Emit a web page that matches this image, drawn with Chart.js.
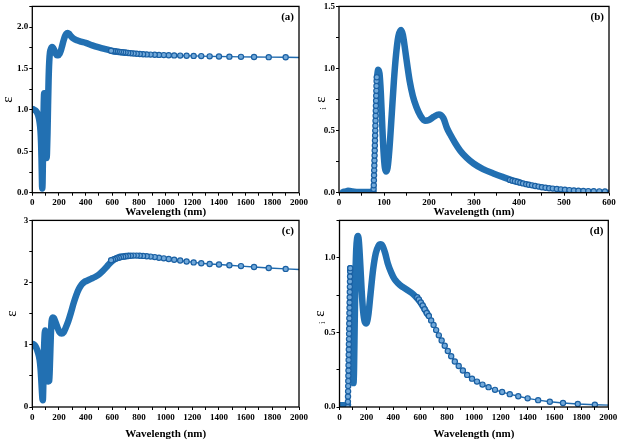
<!DOCTYPE html>
<html><head><meta charset="utf-8">
<script src="https://cdn.jsdelivr.net/npm/chart.js@4/dist/chart.umd.min.js"></script>
<style>
html,body{margin:0;padding:0;background:#fff}
body{width:620px;height:442px;position:relative;overflow:hidden}
canvas{position:absolute}
</style></head><body>
<canvas id="ca" width="310" height="221" style="left:0;top:0;width:310px;height:221px"></canvas>
<canvas id="cb" width="310" height="221" style="left:310px;top:0;width:310px;height:221px"></canvas>
<canvas id="cc" width="310" height="228" style="left:0;top:214px;width:310px;height:228px"></canvas>
<canvas id="cd" width="310" height="228" style="left:310px;top:214px;width:310px;height:228px"></canvas>
<script>
// ---------- data (wavelength in nm, epsilon) ----------
// Panel (a): real part
const wlA_band = [5,15,25,35,45,55,62,66,69,72,74,77,80,83,86,89,92,95,98,101,104,107,110,114,118,122,127,133,140,148,156,165,175,185,195,205,215,225,235,245,255,265,275,290,310,335,365,400,450,500,550,600,650,700];
const epsA_band = [1.01,1.0,0.99,0.97,0.93,0.85,0.74,0.6,0.42,0.18,0.05,0.12,0.45,0.82,1.08,1.2,1.2,1.1,0.85,0.58,0.43,0.42,0.48,0.72,1.05,1.35,1.58,1.7,1.74,1.76,1.75,1.72,1.68,1.66,1.66,1.68,1.72,1.78,1.84,1.89,1.92,1.93,1.92,1.89,1.86,1.84,1.825,1.81,1.78,1.755,1.733,1.712,1.70,1.69];
const wlA_mark = [2047,1900,1773,1663,1565,1478,1400,1330,1267,1210,1157,1109,1064,1023,986,950,918,887,858,831,806,783,760,739,719,700,682,665,649,633,619,605,591];
const epsA_mark = [1.633,1.635,1.637,1.639,1.641,1.643,1.645,1.647,1.65,1.652,1.654,1.656,1.658,1.66,1.662,1.664,1.666,1.668,1.67,1.673,1.676,1.679,1.682,1.685,1.688,1.692,1.695,1.698,1.701,1.704,1.707,1.71,1.714];

// Panel (b): imaginary part
const wlB_band = [9,15,20,24,30,40,55,70,76,80,84.5,87,90,93,96,99,102,105,108,112,117,122,127,132,138,142,147,152,157,164,172,181,191,200,210,222,232,240,247,258,269,284,299,320,343,365,385,400];
const epsB_band = [0.006,0.01,0.016,0.014,0.009,0.006,0.005,0.006,0.012,null,0.93,0.99,0.96,0.8,0.55,0.33,0.2,0.17,0.2,0.35,0.62,0.9,1.12,1.26,1.31,1.27,1.15,1.02,0.9,0.78,0.69,0.62,0.58,0.585,0.61,0.63,0.6,0.52,0.47,0.4,0.34,0.28,0.235,0.19,0.155,0.125,0.1,0.085];
const wlB_mark = [76.5,76.9,77.3,77.6,77.9,78.2,78.5,78.8,79.1,79.4,79.7,80.0,80.3,80.6,80.9,81.2,81.5,81.8,82.1,82.4,82.7,83.0,83.3,83.6,84.0,200,380,385.6,391,397,403,409,416,422,429,436,443.5,451,459,467,475,484,493,502,512,522,532,543,554,566,578.5,591,605];
const epsB_mark = [0.0,0.03,0.06,0.1,0.14,0.18,0.22,0.26,0.3,0.34,0.38,0.42,0.46,0.5,0.54,0.58,0.62,0.66,0.7,0.74,0.78,0.82,0.86,0.9,0.93,null,0.103,0.097,0.092,0.086,0.081,0.075,0.069,0.064,0.059,0.054,0.049,0.044,0.04,0.036,0.033,0.03,0.027,0.024,0.021,0.018,0.016,0.014,0.013,0.012,0.011,0.01,0.009];

// Panel (c): real part
const wlC_band = [8,20,30,42,55,62,67,72,76,79,82,86,91,96,101,107,113,120,127,133,139,145,153,162,175,190,205,220,235,250,270,290,310,330,350,370,390,410,440,470,500,530,560,590,620,650,680,720];
const epsC_band = [1.01,0.99,0.95,0.88,0.76,0.62,0.45,0.26,0.13,0.11,0.3,0.75,1.1,1.23,1.1,0.75,0.5,0.41,0.42,0.75,1.15,1.38,1.44,1.43,1.36,1.27,1.2,1.18,1.2,1.27,1.38,1.52,1.67,1.8,1.9,1.97,2.01,2.03,2.06,2.09,2.13,2.19,2.26,2.33,2.38,2.41,2.42,2.43];
const wlC_mark = [2047,1900,1773,1663,1565,1478,1400,1330,1267,1210,1157,1109,1064,1023,986,950,918,887,858,831,806,783,760,739,719,700,682,665,649,633,619,605,591];
const epsC_mark = [2.205,2.22,2.235,2.25,2.265,2.278,2.29,2.30,2.31,2.325,2.34,2.355,2.368,2.38,2.39,2.40,2.41,2.418,2.424,2.429,2.432,2.434,2.434,2.432,2.428,2.423,2.417,2.41,2.40,2.39,2.38,2.37,2.36];

// Panel (d): imaginary part
const wlD_band = [8,20,35,50,58,62,70,80,84,88,92,96,100,104,108,113,118,124,131,138,145,155,165,175,188,200,215,230,250,270,290,305,320,340,360,385,410,435,460,485,510,535,560,585,610,640,660];
const epsD_band = [0.012,0.012,0.011,0.01,0.01,0.015,null,0.93,0.9,0.75,0.5,0.28,0.19,0.16,0.25,0.55,0.85,1.05,1.13,1.145,1.1,0.95,0.78,0.65,0.57,0.56,0.62,0.75,0.92,1.03,1.08,1.09,1.08,1.03,0.96,0.9,0.855,0.83,0.81,0.795,0.78,0.765,0.745,0.72,0.69,0.645,0.615];
const wlD_mark = [62,62.7,63.3,64,64.7,65.3,66,66.7,67.3,68,68.7,69.3,70,70.7,71.3,72,72.7,73.3,74,74.7,75.3,76,76.7,77.3,78,78.7,79.3,80,300,578.5,591,605,619,633,649,665,682,700,719,739,760,783,806,831,858,887,918,950,986,1023,1064,1109,1157,1210,1267,1330,1400,1478,1565,1663,1773,1900,2047];
const epsD_mark = [0,0.035,0.07,0.105,0.14,0.175,0.21,0.245,0.28,0.315,0.35,0.385,0.42,0.455,0.49,0.525,0.56,0.595,0.63,0.665,0.7,0.735,0.77,0.805,0.84,0.875,0.91,0.93,null,0.735,0.72,0.70,0.68,0.655,0.63,0.61,0.58,0.55,0.515,0.48,0.445,0.41,0.375,0.34,0.305,0.275,0.245,0.215,0.19,0.17,0.15,0.133,0.115,0.1,0.086,0.072,0.058,0.046,0.035,0.027,0.02,0.015,0.012];

// ---------- styling ----------
const SERIF = '"Liberation Serif", "Times New Roman", serif';
const BAND = '#2270b2';
const LINE = '#1f6aae';
const EDGE = '#1a60a3';
const FILL = '#72a9da';

function pts(xs, ys) { return xs.map((x, i) => ({ x: x, y: ys[i] })); }

const framePlugin = {
  id: 'frame',
  afterDraw(chart, args, o) {
    const { ctx, chartArea: a } = chart;
    ctx.save();
    ctx.strokeStyle = '#000';
    ctx.lineWidth = 1.3;
    ctx.strokeRect(a.left, a.top, a.right - a.left, a.bottom - a.top);
    // panel tag
    ctx.fillStyle = '#000';
    ctx.font = 'bold 11px ' + SERIF;
    ctx.textAlign = 'right';
    ctx.textBaseline = 'middle';
    ctx.fillText(o.tag, a.right - 5, a.top + 11);
    // y title
    const yc = (a.top + a.bottom) / 2;
    ctx.translate(o.yTitleX, yc);
    ctx.rotate(-Math.PI / 2);
    ctx.textAlign = 'center';
    ctx.font = '15px ' + SERIF;
    ctx.fillText('\u03B5', 0, 0);
    if (o.sub) {
      ctx.font = '9px ' + SERIF;
      ctx.fillText(o.sub, -9, 3);
    }
    ctx.restore();
  }
};

function makePanel(id, p) {
  new Chart(document.getElementById(id), {
    type: 'line',
    data: {
      datasets: [
        { data: pts(p.bx, p.by), borderColor: BAND, borderWidth: 6.5, pointRadius: 0,
          cubicInterpolationMode: 'monotone', spanGaps: false, fill: false,
          borderCapStyle: 'round', borderJoinStyle: 'round', order: 2 },
        { data: pts(p.mx, p.my), borderColor: LINE, borderWidth: 1.4, pointRadius: 2.6,
          pointBorderWidth: 1.2, pointBorderColor: EDGE, pointBackgroundColor: FILL,
          tension: 0, spanGaps: false, fill: false, order: 1 }
      ]
    },
    options: {
      responsive: false, animation: false, events: [],
      layout: { autoPadding: false, padding: { left: 0, right: p.padR, top: p.padT, bottom: 0 } },
      plugins: {
        legend: { display: false }, tooltip: { enabled: false },
        frame: { tag: p.tag, yTitleX: p.yTitleX, sub: p.sub }
      },
      scales: {
        x: {
          type: 'linear', min: 0, max: p.xMax,
          afterFit: s => { s.height = p.xH; },
          ticks: { stepSize: p.xStep, autoSkip: false, maxRotation: 0, padding: 2, color: '#000',
            font: { family: SERIF, weight: 'bold', size: 9 },
            callback: v => (Math.abs(v / p.xLab - Math.round(v / p.xLab)) < 1e-6 ? String(v) : '') },
          grid: { display: true, drawOnChartArea: false, drawTicks: true, tickLength: 3, tickColor: '#000', tickWidth: 1 },
          border: { display: false },
          title: { display: true, text: 'Wavelength (nm)', color: '#000',
            font: { family: SERIF, weight: 'bold', size: 11 }, padding: { top: 0, bottom: p.tPad } }
        },
        y: {
          type: 'linear', min: 0, max: p.yMax,
          afterFit: s => { s.width = p.yW; },
          ticks: { stepSize: p.yStep, autoSkip: false, padding: 1, color: '#000',
            font: { family: SERIF, weight: 'bold', size: 9 },
            callback: v => (Math.abs(v / p.yLab - Math.round(v / p.yLab)) < 1e-6 ? v.toFixed(p.yDec) : '') },
          grid: { display: true, drawOnChartArea: false, drawTicks: true, tickLength: 3, tickColor: '#000', tickWidth: 1 },
          border: { display: false }
        }
      }
    },
    plugins: [framePlugin]
  });
}

makePanel('ca', { bx: wlA_band, by: epsA_band, mx: wlA_mark, my: epsA_mark, tag: '(a)', sub: '',
  xMax: 2000, xStep: 100, xLab: 200, yMax: 2.25, yStep: 0.25, yLab: 0.5, yDec: 1,
  padR: 8, padT: 5, xH: 28.3, yW: 32.3, tPad: 2.4, yTitleX: 8 });
makePanel('cb', { bx: wlB_band, by: epsB_band, mx: wlB_mark, my: epsB_mark, tag: '(b)', sub: 'i',
  xMax: 600, xStep: 50, xLab: 100, yMax: 1.5, yStep: 0.25, yLab: 0.5, yDec: 1,
  padR: 11, padT: 5, xH: 28.3, yW: 29, tPad: 2.4, yTitleX: 11 });
makePanel('cc', { bx: wlC_band, by: epsC_band, mx: wlC_mark, my: epsC_mark, tag: '(c)', sub: '',
  xMax: 2000, xStep: 100, xLab: 200, yMax: 3, yStep: 0.5, yLab: 1, yDec: 0,
  padR: 8, padT: 5.5, xH: 35, yW: 32.3, tPad: 1.7, yTitleX: 12 });
makePanel('cd', { bx: wlD_band, by: epsD_band, mx: wlD_mark, my: epsD_mark, tag: '(d)', sub: 'i',
  xMax: 2000, xStep: 100, xLab: 200, yMax: 1.25, yStep: 0.25, yLab: 0.5, yDec: 1,
  padR: 11.7, padT: 5.5, xH: 35, yW: 29.5, tPad: 1.7, yTitleX: 10 });
</script>
</body></html>
